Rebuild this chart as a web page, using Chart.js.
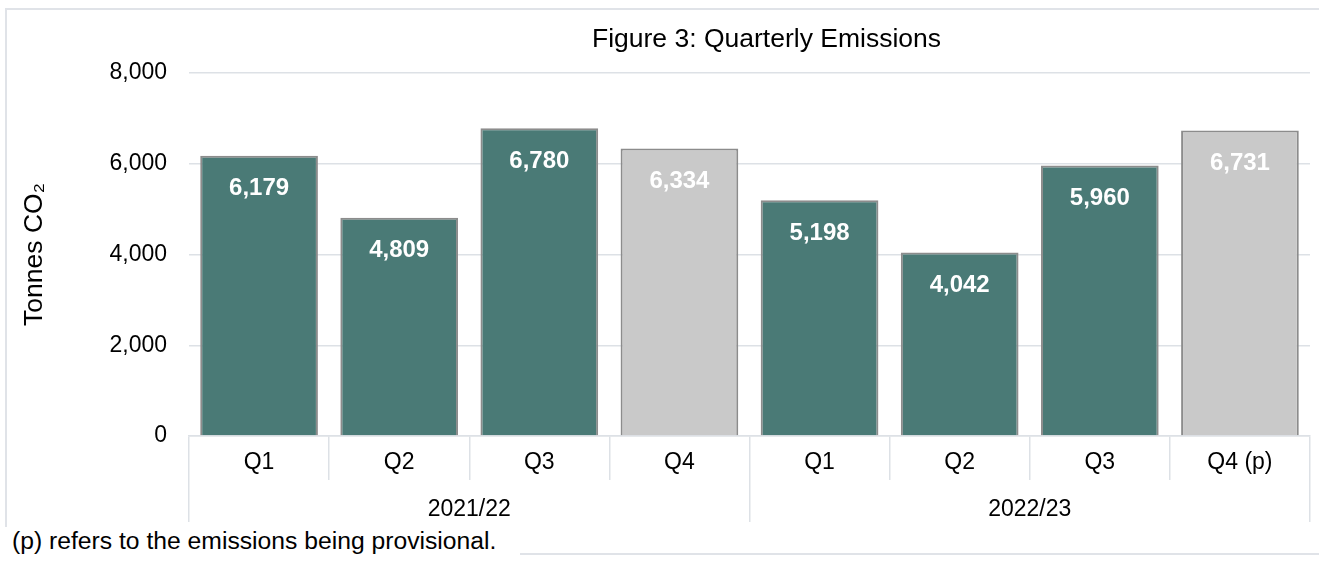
<!DOCTYPE html>
<html>
<head>
<meta charset="utf-8">
<script src="https://cdn.jsdelivr.net/npm/chart.js@4/dist/chart.umd.min.js"></script>
<style>
  body { margin: 0; overflow: hidden; background: #fff; font-family: "Liberation Sans", Arial, sans-serif; }
  #frame { position: absolute; left: 5px; top: 8px; width: 1340px; height: 543px; border: 2px solid #e0e3e8; }
  #wrap { position: absolute; left: 0; top: 0; width: 1319px; height: 561px; }
  #note { position: absolute; left: 4px; top: 527px; width: 516px; height: 34px; padding-left: 8px; box-sizing: border-box;
          background: #fff; font-size: 24.7px; line-height: 28px; color: #000; white-space: nowrap; }
</style>
</head>
<body>
<div id="frame"></div>
<div id="wrap"><canvas id="chart"></canvas></div>
<div id="note">(p) refers to the emissions being provisional.</div>
<script>
const quarters = ['Q1', 'Q2', 'Q3', 'Q4', 'Q1', 'Q2', 'Q3', 'Q4 (p)'];
const years = ['2021/22', '2022/23'];
const emissions = [6179, 4809, 6780, 6334, 5198, 4042, 5960, 6731];
const yTicks = [0, 2000, 4000, 6000, 8000];
const chartTitle = 'Figure 3: Quarterly Emissions';

const teal = '#4a7a76';
const grey = '#c9c9c9';
const gridColor = '#dde1e6';
const font = '"Liberation Sans", Arial, sans-serif';

// Q4 bars are shown in grey
const barColors = quarters.map(q => q.startsWith('Q4') ? grey : teal);

// title sits centred on the whole (wider) frame, a bit right of the plot centre
const titlePlugin = {
  id: 'titlePlugin',
  afterDraw(chart) {
    const ctx = chart.ctx;
    const area = chart.chartArea;
    ctx.save();
    ctx.fillStyle = '#000';
    ctx.font = '26.5px ' + font;
    ctx.textAlign = 'center';
    ctx.textBaseline = 'middle';
    ctx.fillText(chartTitle, (area.left + area.right) / 2 + 17, 40);
    ctx.restore();
  }
};

// white value labels inside the top of each bar
const valueLabels = {
  id: 'valueLabels',
  afterDatasetsDraw(chart) {
    const ctx = chart.ctx;
    const meta = chart.getDatasetMeta(0);
    ctx.save();
    ctx.fillStyle = '#fff';
    ctx.font = 'bold 24px ' + font;
    ctx.textAlign = 'center';
    ctx.textBaseline = 'middle';
    meta.data.forEach((bar, i) => {
      ctx.fillText(emissions[i].toLocaleString('en-GB'), bar.x, bar.y + 33);
    });
    ctx.restore();
  }
};

new Chart(document.getElementById('chart'), {
  type: 'bar',
  data: {
    labels: quarters,
    datasets: [{
      data: emissions,
      backgroundColor: barColors,
      borderColor: '#8c8c8c',
      borderWidth: 2,
      barPercentage: 0.84,
      categoryPercentage: 1
    }]
  },
  options: {
    responsive: true,
    maintainAspectRatio: false,
    animation: false,
    layout: { padding: { left: 0, right: 9, top: 73, bottom: 39 } },
    plugins: {
      legend: { display: false },
      tooltip: { enabled: false },
      title: { display: false }
    },
    scales: {
      x: {
        grid: { offset: true, drawOnChartArea: false, tickLength: 44, color: gridColor, lineWidth: 1.5 },
        border: { color: gridColor, width: 1.5 },
        ticks: { color: '#000', font: { family: font, size: 23 }, padding: -31, maxRotation: 0 },
        afterFit(s) { s.height = 44; }
      },
      x2: {
        type: 'category',
        position: 'bottom',
        labels: years,
        offset: true,
        grid: { offset: true, drawOnChartArea: false, tickLength: 42, color: gridColor, lineWidth: 1.5 },
        border: { display: false },
        ticks: { color: '#000', font: { family: font, size: 23 }, padding: -26, maxRotation: 0 },
        afterFit(s) { s.height = 42; }
      },
      y: {
        min: 0,
        max: 8000,
        afterBuildTicks(s) { s.ticks = yTicks.map(v => ({ value: v })); },
        grid: { drawTicks: false, color: gridColor, lineWidth: 1.5 },
        border: { display: false },
        ticks: {
          color: '#000',
          font: { family: font, size: 23 },
          padding: 22,
          callback: v => v.toLocaleString('en-GB')
        },
        title: {
          display: true,
          text: 'Tonnes CO₂',
          color: '#000',
          font: { family: font, size: 26.5 },
          padding: { top: 19, bottom: 0 }
        },
        afterFit(s) { s.width = 189; }
      }
    }
  },
  plugins: [valueLabels, titlePlugin]
});
</script>
</body>
</html>
